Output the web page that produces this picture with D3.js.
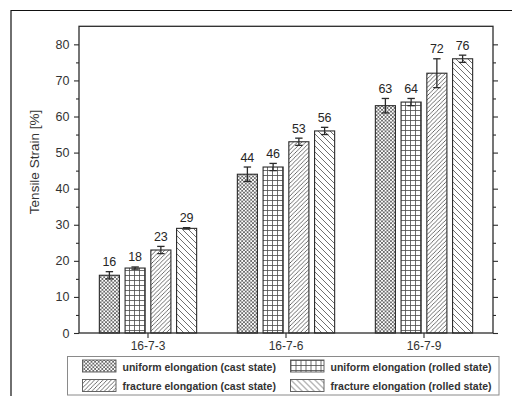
<!DOCTYPE html>
<html>
<head>
<meta charset="utf-8">
<script src="https://cdn.jsdelivr.net/npm/d3@7"></script>
<style>
  html, body { margin: 0; padding: 0; background: #fff; }
  svg { display: block; font-family: "Liberation Sans", Arial, sans-serif; }
</style>
</head>
<body>
<svg id="chart" width="512" height="396"></svg>
<script>
// Alloy samples on the x axis
const categories = ["16-7-3", "16-7-6", "16-7-9"];

// Series (legend order)
const seriesNames = [
  "uniform elongation (cast state)",
  "uniform elongation (rolled state)",
  "fracture elongation (cast state)",
  "fracture elongation (rolled state)"
];

// Tensile strain values [%] and their error half-widths
const uniformCast = [16, 44, 63];
const uniformCastErr = [1, 2, 2];
const uniformRolled = [18, 46, 64];
const uniformRolledErr = [0.3, 1, 1];
const fractureCast = [23, 53, 72];
const fractureCastErr = [1, 1, 4];
const fractureRolled = [29, 56, 76];
const fractureRolledErr = [0.2, 1, 1];

const yTicks = [0, 10, 20, 30, 40, 50, 60, 70, 80];
const yMinorTicks = [5, 15, 25, 35, 45, 55, 65, 75];

const seriesValues = [uniformCast, uniformRolled, fractureCast, fractureRolled];
const seriesErrors = [uniformCastErr, uniformRolledErr, fractureCastErr, fractureRolledErr];
const patternIds = ["pat-cross", "pat-grid", "pat-fwd", "pat-back"];

const svg = d3.select("#chart");
const frame = { left: 79, right: 493, top: 26.3, bottom: 333 };
const ink = "#2b2b2b";

// Hatch fills
const defs = svg.append("defs");
function addPattern(id, size, d, sw) {
  const p = defs.append("pattern")
    .attr("id", id)
    .attr("patternUnits", "userSpaceOnUse")
    .attr("width", size).attr("height", size);
  p.append("rect").attr("width", size).attr("height", size).attr("fill", "#fff");
  p.append("path").attr("d", d).attr("stroke", "#4a4a4a")
    .attr("stroke-width", sw).attr("fill", "none");
}
addPattern("pat-cross", 3.6, "M0,0L3.6,3.6M3.6,0L0,3.6M-1,1L1,-1M2.6,4.6L4.6,2.6", 0.75);
addPattern("pat-grid", 5, "M0,0.5H5M0.5,0V5", 0.8);
addPattern("pat-fwd", 4.2, "M0,4.2L4.2,0M-1,1L1,-1M3.2,5.2L5.2,3.2", 0.8);
addPattern("pat-back", 6, "M0,0L6,6M-1,5L1,7M5,-1L7,1", 0.8);

// Outer figure border
svg.append("path")
  .attr("d", "M11,396V10.5H512")
  .attr("fill", "none").attr("stroke", "#111").attr("stroke-width", 1.2);

// Scales
const x = d3.scaleBand().domain(categories).range([frame.left, frame.right]).padding(0);
const groupWidth = 97.3;
const xInner = d3.scaleBand().domain(d3.range(4))
  .range([(x.bandwidth() - groupWidth) / 2, (x.bandwidth() + groupWidth) / 2])
  .paddingInner(0.22).paddingOuter(0);
const y = d3.scaleLinear().domain([0, 85]).range([frame.bottom, frame.top]);

// Bars
const groups = svg.append("g").selectAll("g")
  .data(categories)
  .join("g")
  .attr("transform", d => `translate(${x(d)},0)`);

const barData = (c, ci) => seriesValues.map((vals, si) => ({
  si, value: vals[ci], err: seriesErrors[si][ci]
}));

groups.each(function (c, ci) {
  const g = d3.select(this);
  const data = barData(c, ci);
  g.selectAll("rect.bar").data(data).join("rect")
    .attr("class", "bar")
    .attr("x", d => xInner(d.si))
    .attr("y", d => y(d.value))
    .attr("width", xInner.bandwidth())
    .attr("height", d => y(0) - y(d.value))
    .attr("fill", d => `url(#${patternIds[d.si]})`)
    .attr("stroke", ink).attr("stroke-width", 1.1);

  // error bars
  const eb = g.selectAll("g.err").data(data).join("g").attr("class", "err")
    .attr("transform", d => `translate(${xInner(d.si) + xInner.bandwidth() / 2},0)`);
  eb.append("line")
    .attr("y1", d => y(d.value + d.err)).attr("y2", d => y(d.value - d.err))
    .attr("stroke", ink).attr("stroke-width", 1.3);
  eb.append("line")
    .attr("x1", -3.7).attr("x2", 3.7)
    .attr("y1", d => y(d.value + d.err)).attr("y2", d => y(d.value + d.err))
    .attr("stroke", ink).attr("stroke-width", 1.3);
  eb.append("line")
    .attr("x1", -3.7).attr("x2", 3.7)
    .attr("y1", d => y(d.value - d.err)).attr("y2", d => y(d.value - d.err))
    .attr("stroke", ink).attr("stroke-width", 1.3);

  // value labels
  g.selectAll("text.val").data(data).join("text")
    .attr("class", "val")
    .attr("x", d => xInner(d.si) + xInner.bandwidth() / 2)
    .attr("y", d => y(d.value + d.err) - 5.5)
    .attr("text-anchor", "middle")
    .attr("font-size", 12.5)
    .attr("fill", "#262626")
    .text(d => d.value);
});

// Axes
function styleAxis(g) {
  g.select(".domain").remove();
  g.selectAll(".tick line").attr("stroke", ink).attr("stroke-width", 1.1);
  g.selectAll(".tick text").attr("fill", "#333")
    .attr("font-family", "'Liberation Sans', Arial, sans-serif");
}

svg.append("g")
  .attr("transform", `translate(${frame.left},0)`)
  .call(d3.axisLeft(y).tickValues(yTicks).tickSize(5).tickPadding(4.5))
  .call(styleAxis)
  .call(g => g.selectAll(".tick text").attr("font-size", 12.5));

svg.append("g")
  .attr("transform", `translate(${frame.left},0)`)
  .call(d3.axisLeft(y).tickValues(yMinorTicks).tickSize(3).tickFormat(""))
  .call(styleAxis);

svg.append("g")
  .attr("transform", `translate(${frame.right},0)`)
  .call(d3.axisLeft(y).tickValues(yTicks).tickSize(-5).tickFormat(""))
  .call(styleAxis);
svg.append("g")
  .attr("transform", `translate(${frame.right},0)`)
  .call(d3.axisLeft(y).tickValues(yMinorTicks).tickSize(-3).tickFormat(""))
  .call(styleAxis);

svg.append("g")
  .attr("transform", `translate(0,${frame.bottom})`)
  .call(d3.axisBottom(x).tickSize(5).tickPadding(3))
  .call(styleAxis)
  .call(g => g.selectAll(".tick text").attr("font-size", 12));

// Plot frame
svg.append("rect")
  .attr("x", frame.left).attr("y", frame.top)
  .attr("width", frame.right - frame.left)
  .attr("height", frame.bottom - frame.top)
  .attr("fill", "none").attr("stroke", ink).attr("stroke-width", 1.3);

// Y title
svg.append("text")
  .attr("transform", `translate(39,162) rotate(-90)`)
  .attr("text-anchor", "middle")
  .attr("font-size", 13.5)
  .attr("fill", "#333")
  .text("Tensile Strain [%]");

// Legend
const legend = svg.append("g");
legend.append("rect")
  .attr("x", 67.5).attr("y", 356.5).attr("width", 431.5).attr("height", 38.5)
  .attr("fill", "#fff").attr("stroke", "#8a8a8a").attr("stroke-width", 1);

const legendPos = [
  { x: 82.5, y: 360 }, { x: 290.5, y: 360 },
  { x: 82.5, y: 379.5 }, { x: 290.5, y: 379.5 }
];
const items = legend.selectAll("g.item").data(seriesNames).join("g")
  .attr("class", "item")
  .attr("transform", (d, i) => `translate(${legendPos[i].x},${legendPos[i].y})`);
items.append("rect")
  .attr("width", 33.5).attr("height", 12)
  .attr("fill", (d, i) => `url(#${patternIds[i]})`)
  .attr("stroke", "#555").attr("stroke-width", 0.9);
items.append("text")
  .attr("x", 40).attr("y", 10.5)
  .attr("font-size", 10.5)
  .attr("font-weight", "bold")
  .attr("fill", "#333")
  .text(d => d);
</script>
</body>
</html>
